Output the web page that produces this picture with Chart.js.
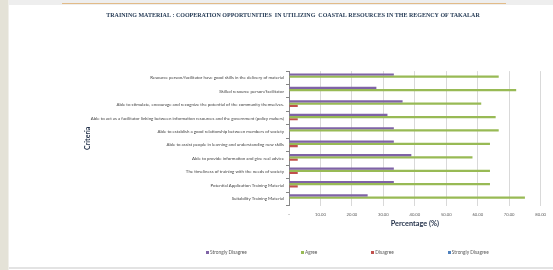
<!DOCTYPE html>
<html>
<head>
<meta charset="utf-8">
<script src="https://cdn.jsdelivr.net/npm/chart.js@4.4.1/dist/chart.umd.min.js"></script>
<style>
    html, body { margin: 0; padding: 0; background: #ffffff; }
    body { width: 553px; height: 270px; position: relative; overflow: hidden; }
    .side-strip { position: absolute; left: 0; top: 0; width: 8px; height: 270px; background: #e4e2d7; border-right: 1px solid #f0efea; }
    .top-strip { position: absolute; left: 9px; top: 0; width: 544px; height: 5px; background: #eeeeee; }
    .top-line { position: absolute; left: 62px; top: 3px; width: 444px; height: 1px; background: #e2bb88; }
    .bottom-line { position: absolute; left: 9px; top: 267px; width: 544px; height: 2px; background: #e3e3e3; }
    .chart-box { position: absolute; left: 33px; top: 6px; width: 520px; height: 260px; }
    #legend { position: absolute; left: 206px; top: 249px; display: flex; gap: 54px; font: 4.8px Lato, sans-serif; color: #595959; line-height: 6px; }
    #legend span.item { display: flex; align-items: center; white-space: nowrap; }
    #legend span.swatch { display: inline-block; width: 3px; height: 3px; margin-right: 1px; }
</style>
</head>
<body>
<div class="side-strip"></div>
<div class="top-strip"></div>
<div class="top-line"></div>
<div class="chart-box"><canvas id="trainingChart"></canvas></div>
<div id="legend"></div>
<div class="bottom-line"></div>
<script>
// Criteria (top to bottom as shown)
const criteria = [
    'Resource person/facilitator have good skills in the delivery of material',
    'Skilled resource person/facilitator',
    'Able to stimulate, encourage and recognize the potential of the community themselves.',
    'Able to act as a facilitator linking between information resources and the government (policy makers)',
    'Able to establish a good relationship between members of society',
    'Able to assist people in learning and understanding new skills',
    'Able to provide information and give real advice',
    'The timeliness of training with the needs of society',
    'Potential Application Training Material',
    'Suitability Training Material'
];

// Percentages per answer
const stronglyAgreeValues = [33.33, 27.78, 36.11, 31.3, 33.33, 33.33, 38.89, 33.33, 33.33, 25.00];
const agreeValues = [66.67, 72.22, 61.11, 65.7, 66.67, 63.89, 58.33, 63.89, 63.89, 75.00];
const disagreeValues = [0, 0, 2.78, 2.78, 0, 2.78, 2.78, 2.78, 2.78, 0];
const stronglyDisagreeValues = [0, 0, 0, 0, 0, 0, 0, 0, 0, 0];

// Legend text as printed on the original
const seriesNames = ['Strongly Disagree', 'Agree', 'Disagree', 'Strongly Disagree'];

const xMin = 0;
const xMax = 80;
const xStep = 10;

const ctx = document.getElementById('trainingChart');

const chart = new Chart(ctx, {
    type: 'bar',
    data: {
        labels: criteria,
        datasets: [
            { label: seriesNames[0], data: stronglyAgreeValues, backgroundColor: '#7f63a6' },
            { label: seriesNames[1], data: agreeValues, backgroundColor: '#98ba55' },
            { label: seriesNames[2], data: disagreeValues, backgroundColor: '#c0504d' },
            { label: seriesNames[3], data: stronglyDisagreeValues, backgroundColor: '#4f81bd' }
        ]
    },
    options: {
        indexAxis: 'y',
        responsive: true,
        maintainAspectRatio: false,
        animation: false,
        datasets: {
            bar: {
                categoryPercentage: 0.66,
                barPercentage: 1,
                borderWidth: 0
            }
        },
        layout: {
            padding: { left: 5, right: 5, top: 0, bottom: 36.5 }
        },
        plugins: {
            legend: { display: false },
            tooltip: { enabled: false },
            title: {
                display: true,
                text: 'TRAINING MATERIAL : COOPERATION OPPORTUNITIES  IN UTILIZING  COASTAL RESOURCES IN THE REGENCY OF TAKALAR',
                color: '#1f3550',
                font: { family: "'Liberation Serif', serif", size: 6, weight: 'bold' },
                padding: { top: 5.4, bottom: 52.5 }
            }
        },
        scales: {
            x: {
                min: xMin,
                max: xMax,
                grid: { color: '#d9d9d9', drawTicks: false },
                border: { display: false },
                ticks: {
                    stepSize: xStep,
                    padding: 7,
                    color: '#595959',
                    font: { family: 'Lato, sans-serif', size: 4.2 },
                    callback: (value) => value === 0 ? '-' : value.toFixed(2)
                },
                title: {
                    display: true,
                    text: 'Percentage (%)',
                    color: '#1f2d46',
                    font: { family: 'Lato, sans-serif', size: 7.3, weight: 'bold' },
                    padding: { top: 0, bottom: 1 }
                },
                afterFit: (scale) => { scale.height = 24; }
            },
            y: {
                grid: { drawOnChartArea: false, tickLength: 3, color: '#868686' },
                border: { display: true, color: '#868686' },
                ticks: {
                    autoSkip: false,
                    padding: 2,
                    color: '#404040',
                    font: { family: 'Lato, sans-serif', size: 4.4 }
                },
                title: {
                    display: true,
                    text: 'Criteria',
                    color: '#1f2d46',
                    font: { family: 'Lato, sans-serif', size: 7, weight: 'bold' },
                    padding: { top: 46, bottom: 0 }
                },
                afterFit: (scale) => { scale.width = 251; }
            }
        }
    }
});

// HTML legend built from the datasets
function buildLegend(chart) {
    const box = document.getElementById('legend');
    box.innerHTML = '';
    chart.data.datasets.forEach((ds) => {
        const item = document.createElement('span');
        item.className = 'item';
        const swatch = document.createElement('span');
        swatch.className = 'swatch';
        swatch.style.background = ds.backgroundColor;
        item.appendChild(swatch);
        item.appendChild(document.createTextNode(ds.label));
        box.appendChild(item);
    });
}
buildLegend(chart);
</script>
</body>
</html>
